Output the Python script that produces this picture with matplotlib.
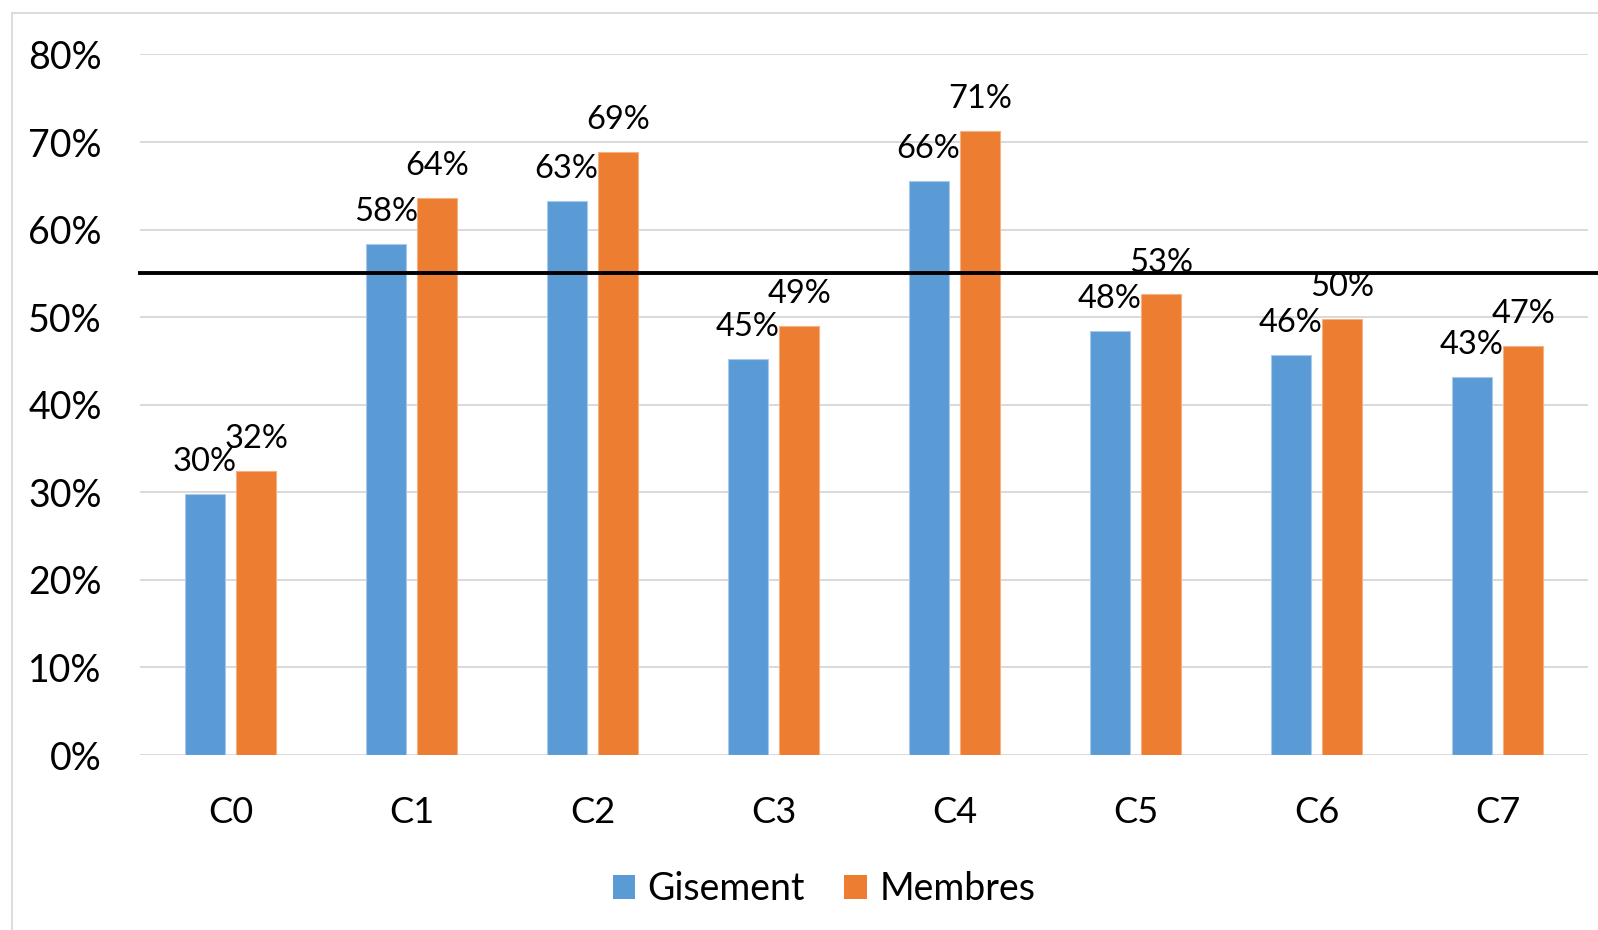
import matplotlib.pyplot as plt
import numpy as np
from matplotlib.patches import Patch
from matplotlib.ticker import PercentFormatter

categories = ['C0', 'C1', 'C2', 'C3', 'C4', 'C5', 'C6', 'C7']
gisement = [0.298, 0.584, 0.633, 0.452, 0.656, 0.484, 0.457, 0.432]
membres = [0.324, 0.636, 0.689, 0.490, 0.713, 0.526, 0.498, 0.467]
seuil = 0.55
y_ticks = [0.0, 0.1, 0.2, 0.3, 0.4, 0.5, 0.6, 0.7, 0.8]

BLUE = '#5B9BD5'
ORANGE = '#ED7D31'
GRID = '#D9D9D9'

plt.rcParams['font.family'] = ['Lato', 'DejaVu Sans']

fig = plt.figure(figsize=(15.98, 9.30), dpi=100)
ax = fig.add_axes([140 / 1598, 1 - 755 / 930, 1448 / 1598, 700.5 / 930])

x = np.arange(len(categories))
w = 0.22
off = 0.143

b1 = ax.bar(x - off, gisement, w, color=BLUE, edgecolor='#A9C9EA', linewidth=0.8, zorder=3)
b2 = ax.bar(x + off, membres, w, color=ORANGE, edgecolor='#F4B183', linewidth=0.8, zorder=3)

for bars, vals in ((b1, gisement), (b2, membres)):
    for bar, v in zip(bars, vals):
        ax.annotate(f'{round(v * 100):.0f}%',
                    (bar.get_x() + bar.get_width() / 2, v),
                    xytext=(0, 16.5), textcoords='offset points',
                    ha='center', va='baseline', fontsize=23.5, zorder=5)

# reference line, runs past the plot area to the right edge
ax.plot([0, 1.01], [seuil, seuil], transform=ax.get_yaxis_transform(),
        color='black', linewidth=2.8, clip_on=False, zorder=4)

ax.set_xlim(-0.5, len(categories) - 0.5)
ax.set_ylim(0, 0.8)
ax.set_yticks(y_ticks)
ax.yaxis.set_major_formatter(PercentFormatter(1.0, decimals=0))
ax.set_xticks(x)
ax.set_xticklabels(categories)
ax.tick_params(axis='y', length=0, pad=27.5, labelsize=27)
ax.tick_params(axis='x', length=0, pad=29.5, labelsize=26)
ax.grid(axis='y', color=GRID, linewidth=1.4, zorder=0)
for s in ax.spines.values():
    s.set_visible(False)

handles = [Patch(facecolor=BLUE, label='Gisement'),
           Patch(facecolor=ORANGE, label='Membres')]
fig.legend(handles=handles, loc='center', bbox_to_anchor=(824 / 1598, 1 - 889 / 930),
           ncol=2, frameon=False, fontsize=27, handlelength=0.6, handleheight=0.6,
           handletextpad=0.33, columnspacing=1.05)

# chart frame
fig.add_artist(plt.Line2D([12 / 1598, 12 / 1598], [0, 1 - 13 / 930],
                          transform=fig.transFigure, color=GRID, linewidth=1.3))
fig.add_artist(plt.Line2D([12 / 1598, 1], [1 - 13 / 930, 1 - 13 / 930],
                          transform=fig.transFigure, color=GRID, linewidth=1.3))

fig.savefig('out.png', dpi=100)
